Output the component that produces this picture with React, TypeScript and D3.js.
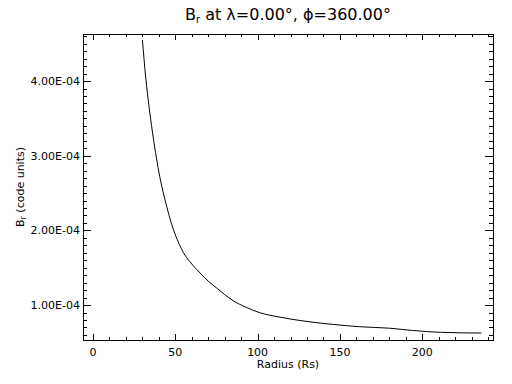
import React, { useRef, useEffect } from "react";
import * as d3 from "d3";

// radius (Rs) and B_r (code units)
const radius = [30, 32, 34, 36, 38, 40, 42.5, 45, 47.5, 50, 52.5, 55, 60, 65, 70, 75, 80, 85, 93, 101, 113, 130, 146, 162, 180, 194, 211, 236];
const bField = [4.55e-4, 4.05e-4, 3.66e-4, 3.33e-4, 3.04e-4, 2.78e-4, 2.52e-4, 2.3e-4, 2.1e-4, 1.94e-4, 1.81e-4, 1.7e-4, 1.55e-4, 1.43e-4, 1.32e-4, 1.23e-4, 1.14e-4, 1.06e-4, 0.97e-4, 0.9e-4, 0.84e-4, 0.78e-4, 0.74e-4, 0.71e-4, 0.69e-4, 0.66e-4, 0.635e-4, 0.625e-4];

const xMajor = [0, 50, 100, 150, 200];
const yMajor = [1e-4, 2e-4, 3e-4, 4e-4];
const yLabels = ["1.00E-04", "2.00E-04", "3.00E-04", "4.00E-04"];

const width = 512;
const height = 384;
const margin = { top: 34, right: 19, bottom: 44, left: 83 };
const font = "'DejaVu Sans', sans-serif";

const App = () => {
  const svgRef = useRef<SVGSVGElement>(null);

  useEffect(() => {
    document.body.style.margin = "0";
    const svg = d3.select(svgRef.current);
    svg.selectAll("*").remove();

    const x0 = margin.left;
    const x1 = width - margin.right;
    const y0 = height - margin.bottom;
    const y1 = margin.top;

    const xScale = d3.scaleLinear().domain([-6.1, 243]).range([x0, x1]);
    const yScale = d3.scaleLinear().domain([0.532e-4, 4.63e-4]).range([y0, y1]);

    const g = svg.append("g").attr("shape-rendering", "crispEdges");

    // frame
    g.append("rect")
      .attr("x", x0 + 0.5)
      .attr("y", y1 + 0.5)
      .attr("width", x1 - x0)
      .attr("height", y0 - y1)
      .attr("fill", "none")
      .attr("stroke", "black");

    // x ticks (bottom + top)
    const xMinor = d3.range(10, 241, 10).filter((v) => v % 50 !== 0);
    const xTicks = [
      ...xMajor.map((v) => ({ v, len: 6 })),
      ...xMinor.map((v) => ({ v, len: 3 })),
    ];
    xTicks.forEach((t) => {
      const px = Math.round(xScale(t.v)) + 0.5;
      g.append("line").attr("x1", px).attr("x2", px).attr("y1", y0).attr("y2", y0 - t.len).attr("stroke", "black");
      g.append("line").attr("x1", px).attr("x2", px).attr("y1", y1).attr("y2", y1 + t.len).attr("stroke", "black");
    });

    // y ticks (left + right)
    const yMinor = d3.range(6, 47).map((d) => d * 1e-5).filter((_, i) => (i + 6) % 10 !== 0);
    const yTicks = [
      ...yMajor.map((v) => ({ v, len: 8 })),
      ...yMinor.map((v) => ({ v, len: 4 })),
    ];
    yTicks.forEach((t) => {
      const py = Math.round(yScale(t.v)) + 0.5;
      g.append("line").attr("x1", x0).attr("x2", x0 + t.len).attr("y1", py).attr("y2", py).attr("stroke", "black");
      g.append("line").attr("x1", x1).attr("x2", x1 - t.len).attr("y1", py).attr("y2", py).attr("stroke", "black");
    });

    // tick labels
    svg.append("g")
      .selectAll("text")
      .data(xMajor)
      .enter()
      .append("text")
      .attr("x", (d) => xScale(d))
      .attr("y", y0 + 16)
      .attr("text-anchor", "middle")
      .attr("font-family", font)
      .attr("font-size", 11)
      .text((d) => d);

    svg.append("g")
      .selectAll("text")
      .data(yMajor)
      .enter()
      .append("text")
      .attr("x", x0 - 3)
      .attr("y", (d) => yScale(d) + 4)
      .attr("text-anchor", "end")
      .attr("font-family", font)
      .attr("font-size", 11)
      .text((d, i) => yLabels[i]);

    // curve
    const line = d3
      .line<number>()
      .x((d, i) => xScale(radius[i]))
      .y((d) => yScale(d))
      .curve(d3.curveMonotoneX);
    svg.append("path")
      .datum(bField)
      .attr("d", line)
      .attr("fill", "none")
      .attr("stroke", "black")
      .attr("stroke-width", 1);

    // titles
    const title = svg.append("text")
      .attr("x", (x0 + x1) / 2)
      .attr("y", 20)
      .attr("text-anchor", "middle")
      .attr("font-family", font)
      .attr("font-size", 16);
    title.append("tspan").text("B");
    title.append("tspan").attr("font-size", 10).attr("dy", 3).text("r");
    title.append("tspan").attr("dy", -3).text(" at \u03bb=0.00\u00b0, \u03d5=360.00\u00b0");

    svg.append("text")
      .attr("x", (x0 + x1) / 2)
      .attr("y", y0 + 28)
      .attr("text-anchor", "middle")
      .attr("font-family", font)
      .attr("font-size", 11)
      .text("Radius (Rs)");

    const yt = svg.append("text")
      .attr("transform", `translate(24,${(y0 + y1) / 2}) rotate(-90)`)
      .attr("text-anchor", "middle")
      .attr("font-family", font)
      .attr("font-size", 11);
    yt.append("tspan").text("B");
    yt.append("tspan").attr("font-size", 8).attr("dy", 2).text("r");
    yt.append("tspan").attr("dy", -2).text(" (code units)");
  }, []);

  return (
    <svg ref={svgRef} width={width} height={height} style={{ display: "block", background: "white" }} />
  );
};

export default App;
